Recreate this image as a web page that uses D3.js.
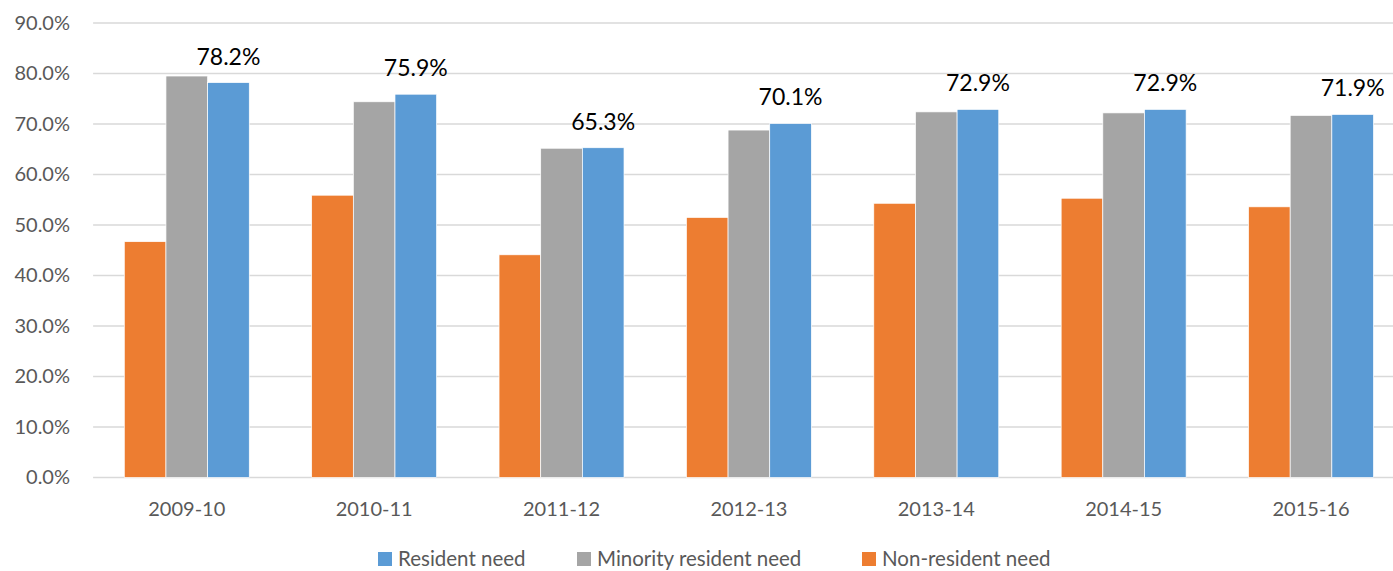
<!DOCTYPE html>
<html><head><meta charset="utf-8">
<script src="https://cdn.jsdelivr.net/npm/d3@7"></script>
<style>body{margin:0;background:#fff;} svg{display:block;font-family:Lato,"Open Sans",sans-serif;}</style>
</head><body>
<svg id="c" width="1393" height="571"></svg>
<script>
const categories = ["2009-10","2010-11","2011-12","2012-13","2013-14","2014-15","2015-16"];
const seriesNames = ["Non-resident need","Minority resident need","Resident need"];
const nonResident = [46.7, 55.9, 44.1, 51.5, 54.3, 55.3, 53.6];
const minorityResident = [79.5, 74.4, 65.2, 68.8, 72.4, 72.2, 71.7];
const resident = [78.2, 75.9, 65.3, 70.1, 72.9, 72.9, 71.9];
const yTicks = [0,10,20,30,40,50,60,70,80,90];
const legendOrder = ["Resident need","Minority resident need","Non-resident need"];
const colors = {"Resident need":"#5B9BD5","Minority resident need":"#A5A5A5","Non-resident need":"#ED7D31"};

const svg = d3.select("#c");
const x = d3.scaleBand().domain(categories).range([93.1,1404.7]).paddingInner(0.333).paddingOuter(0.1665);
const xs = d3.scaleBand().domain(seriesNames).range([0,x.bandwidth()]);
const y = d3.scaleLinear().domain([0,90]).range([477.5,23]);

const seriesVals = {"Non-resident need":nonResident,"Minority resident need":minorityResident,"Resident need":resident};

// gridlines
svg.append("g").selectAll("line").data(yTicks).join("line")
  .attr("x1",93.1).attr("x2",1404.7)
  .attr("y1",d=>y(d)).attr("y2",d=>y(d))
  .attr("stroke","#D9D9D9").attr("stroke-width",1.3);

// y axis labels
const yAxis = d3.axisLeft(y).tickValues(yTicks).tickFormat(d=>d.toFixed(1)+"%").tickSize(0).tickPadding(0);
const ya = svg.append("g").attr("transform","translate(70,0)").call(yAxis);
ya.select(".domain").remove();
ya.selectAll("text").attr("fill","#595959").style("font-size","20px").style("font-family","Lato");

// bars
const g = svg.append("g");
categories.forEach((c,i)=>{
  seriesNames.forEach(s=>{
    const v = seriesVals[s][i];
    g.append("rect").attr("x",x(c)+xs(s)).attr("width",xs.bandwidth())
      .attr("y",y(v)).attr("height",y(0)-y(v))
      .attr("fill",colors[s]).attr("stroke","#fff").attr("stroke-width",0.7);
  });
  const v = resident[i];
  svg.append("text").attr("x",x(c)+xs("Resident need")+xs.bandwidth()/2)
    .attr("y",y(v)-18).attr("text-anchor","middle")
    .style("font-size","23px").attr("fill","#000").text(v.toFixed(1)+"%");
});

// x axis labels
const xAxis = d3.axisBottom(x).tickSize(0).tickPadding(0);
const xa = svg.append("g").attr("transform","translate(0,501)").call(xAxis);
xa.select(".domain").remove();
xa.selectAll("text").attr("fill","#595959").style("font-size","20px").style("font-family","Lato").attr("dy","0.75em");

// legend
const legX = [378, 577, 862];
const lg = svg.append("g");
legendOrder.forEach((s,i)=>{
  lg.append("rect").attr("x",legX[i]).attr("y",552).attr("width",14).attr("height",14).attr("fill",colors[s]);
  lg.append("text").attr("x",legX[i]+20).attr("y",566).attr("fill","#595959").style("font-size","20.5px").text(s);
});
</script>
</body></html>
